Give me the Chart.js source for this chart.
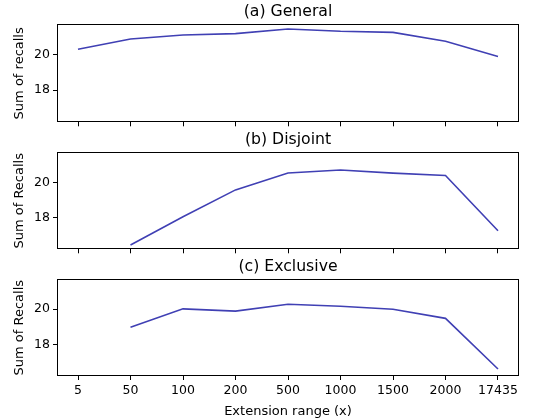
<!DOCTYPE html>
<html>
<head>
<meta charset="utf-8">
<script src="https://cdn.jsdelivr.net/npm/chart.js@4/dist/chart.umd.min.js"></script>
<style>
  html, body { margin: 0; padding: 0; background: #fff; }
  #wrap { position: relative; width: 533px; height: 419px; overflow: hidden; }
  canvas { position: absolute; left: 0; display: block; }
</style>
</head>
<body>
<div id="wrap">
  <canvas id="ca" width="533" height="133" style="top:0px;width:533px;height:133px;"></canvas>
  <canvas id="cb" width="533" height="132" style="top:128px;width:533px;height:132px;"></canvas>
  <canvas id="cc" width="533" height="164" style="top:255px;width:533px;height:164px;"></canvas>
</div>
<script>
// ---- data ----
const categories = ['5', '50', '100', '200', '500', '1000', '1500', '2000', '17435'];
const generalValues = [20.30, 20.88, 21.10, 21.18, 21.44, 21.31, 21.25, 20.75, 19.89];
const disjointValues = [null, 16.44, 18.05, 19.57, 20.53, 20.70, 20.52, 20.39, 17.25];
const exclusiveValues = [null, 18.97, 20.02, 19.89, 20.28, 20.17, 20.00, 19.48, 16.60];
const yTicks = [18, 20];
const titles = ['(a) General', '(b) Disjoint', '(c) Exclusive'];
const yLabels = ['Sum of recalls', 'Sum of Recalls', 'Sum of Recalls'];
const xLabel = 'Extension range (x)';

const LINE_COLOR = '#4040b4';
const FONT = "'DejaVu Sans', sans-serif";

const boxPlugin = {
  id: 'box',
  afterDraw(chart) {
    const a = chart.chartArea, ctx = chart.ctx;
    ctx.save();
    ctx.strokeStyle = '#000';
    ctx.lineWidth = 1;
    const l = Math.round(a.left) + 0.5, t = Math.round(a.top) + 0.5;
    const r = Math.round(a.right) - 0.5, b = Math.round(a.bottom) - 0.5;
    ctx.strokeRect(l, t, r - l, b - t);
    ctx.restore();
  }
};

function makeChart(canvasId, values, idx, showX, xHeight) {
  const pts = categories.map((c, i) => ({ x: i, y: values[i] }));
  return new Chart(document.getElementById(canvasId), {
    type: 'line',
    data: {
      datasets: [{
        data: pts,
        borderColor: LINE_COLOR,
        borderWidth: 1.6,
        pointRadius: 0,
        tension: 0,
        spanGaps: false,
        fill: false
      }]
    },
    options: {
      responsive: false,
      animation: false,
      layout: { padding: { left: 0, right: 14, top: 0, bottom: 0 } },
      plugins: {
        legend: { display: false },
        tooltip: { enabled: false },
        title: {
          display: true,
          fullSize: false,
          text: titles[idx],
          color: '#000',
          font: { family: FONT, size: 15.7, weight: 'normal' },
          padding: { top: 3, bottom: 2.5 }
        }
      },
      scales: {
        x: {
          type: 'linear',
          min: -0.4,
          max: 8.4,
          afterBuildTicks(scale) {
            scale.ticks = categories.map((c, i) => ({ value: i }));
          },
          afterFit(scale) { scale.height = xHeight; },
          border: { display: false },
          grid: { drawOnChartArea: false, drawTicks: true, tickLength: 4, color: '#000', tickWidth: 1 },
          ticks: {
            color: '#000',
            font: { family: FONT, size: 12.5 },
            padding: 3,
            maxRotation: 0,
            autoSkip: false,
            callback: (v) => showX ? categories[v] : ''
          },
          title: {
            display: showX,
            text: xLabel,
            color: '#000',
            font: { family: FONT, size: 13 },
            padding: { top: 0, bottom: 0 }
          }
        },
        y: {
          min: 16.2,
          max: 21.7,
          afterBuildTicks(scale) {
            scale.ticks = yTicks.map(v => ({ value: v }));
          },
          afterFit(scale) { scale.width = 57; },
          border: { display: false },
          grid: { drawOnChartArea: false, drawTicks: true, tickLength: 4, color: '#000', tickWidth: 1 },
          ticks: {
            color: '#000',
            font: { family: FONT, size: 12.5 },
            padding: 3,
            callback: (v) => String(v)
          },
          title: {
            display: true,
            text: yLabels[idx],
            color: '#000',
            font: { family: FONT, size: 13 },
            padding: { top: 12, bottom: 0 }
          }
        }
      }
    },
    plugins: [boxPlugin]
  });
}

makeChart('ca', generalValues, 0, false, 10.7);
makeChart('cb', disjointValues, 1, false, 10.7);
makeChart('cc', exclusiveValues, 2, true, 43);
</script>
</body>
</html>
